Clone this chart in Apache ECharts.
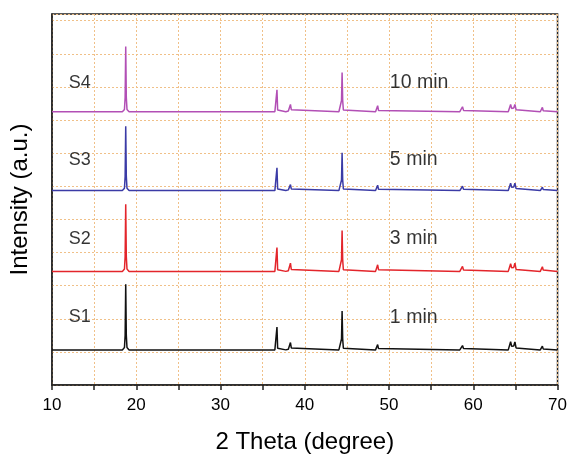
<!DOCTYPE html>
<html>
<head>
<meta charset="utf-8">
<script src="https://cdn.jsdelivr.net/npm/echarts@6/dist/echarts.min.js"></script>
<style>html,body{margin:0;padding:0;background:#fff}#c{width:570px;height:459px}</style>
</head>
<body>
<div id="c"></div>
<script>
// 2-theta sample positions shared by all patterns
const twoTheta = [10,
  18.35, 18.6, 18.68, 18.75, 18.82, 18.9, 19.15,
  36.45, 36.62, 36.7, 36.78, 36.95,
  37.75, 37.9, 38.05, 38.2, 38.3, 38.4, 38.6,
  44.05, 44.28, 44.36, 44.43, 44.5, 44.58, 44.8,
  48.4, 48.55, 48.65, 48.75, 48.9,
  58.4, 58.6, 58.72, 58.84, 59.05,
  64.15, 64.3, 64.43, 64.55, 64.68, 64.8, 64.94, 65.08, 65.3,
  67.95, 68.1, 68.2, 68.3, 68.5,
  70];

// intensities (a.u.) above each pattern's own baseline
const s1 = [0.02,
  0.02, 0.09, 0.45, 2.00, 0.45, 0.09, 0.02,
  0.02, 0.07, 0.71, 0.07, 0.02,
  0.02, 0.08, 0.04, 0.10, 0.24, 0.08, 0.02,
  0.02, 0.07, 0.35, 1.19, 0.35, 0.07, 0.02,
  0.02, 0.06, 0.18, 0.06, 0.02,
  0.02, 0.06, 0.15, 0.06, 0.02,
  0.02, 0.08, 0.27, 0.13, 0.12, 0.14, 0.26, 0.08, 0.02,
  0.02, 0.05, 0.13, 0.05, 0.02,
  0.02];
const s2 = [0.02,
  0.02, 0.09, 0.46, 2.05, 0.46, 0.09, 0.02,
  0.02, 0.07, 0.74, 0.07, 0.02,
  0.02, 0.08, 0.04, 0.10, 0.27, 0.08, 0.02,
  0.02, 0.07, 0.37, 1.25, 0.37, 0.07, 0.02,
  0.02, 0.07, 0.22, 0.07, 0.02,
  0.02, 0.06, 0.17, 0.06, 0.02,
  0.02, 0.08, 0.25, 0.13, 0.12, 0.14, 0.27, 0.08, 0.02,
  0.02, 0.06, 0.16, 0.06, 0.02,
  0.02];
const s3 = [0.02,
  0.02, 0.09, 0.44, 1.96, 0.44, 0.09, 0.02,
  0.02, 0.07, 0.71, 0.07, 0.02,
  0.02, 0.07, 0.04, 0.09, 0.20, 0.07, 0.02,
  0.02, 0.07, 0.34, 1.16, 0.34, 0.07, 0.02,
  0.02, 0.06, 0.18, 0.06, 0.02,
  0.02, 0.06, 0.15, 0.06, 0.02,
  0.02, 0.08, 0.24, 0.12, 0.11, 0.13, 0.24, 0.08, 0.02,
  0.02, 0.05, 0.12, 0.05, 0.02,
  0.02];
const s4 = [0.02,
  0.02, 0.09, 0.45, 1.99, 0.45, 0.09, 0.02,
  0.02, 0.07, 0.68, 0.07, 0.02,
  0.02, 0.08, 0.04, 0.10, 0.24, 0.08, 0.02,
  0.02, 0.07, 0.36, 1.20, 0.36, 0.07, 0.02,
  0.02, 0.06, 0.20, 0.06, 0.02,
  0.02, 0.06, 0.17, 0.06, 0.02,
  0.02, 0.08, 0.24, 0.12, 0.11, 0.13, 0.24, 0.08, 0.02,
  0.02, 0.05, 0.15, 0.05, 0.02,
  0.02];

const sampleNames = ['S1', 'S2', 'S3', 'S4'];
const timeNames = ['1 min', '3 min', '5 min', '10 min'];
const baselines = [1.04, 3.41, 5.85, 8.23];   // vertical offsets of stacked patterns
const xTicks = [10, 20, 30, 40, 50, 60, 70];

const patterns = [s1, s2, s3, s4];
const colors = ['#111111', '#e3252b', '#3b3ba6', '#b24fb5'];
const sampleLabelX = 12.0, timeLabelX = 50.1;
const labelYOffset = [1.0, 1.0, 0.95, 0.9];

const FONT = "'Liberation Sans', Arial, sans-serif";
const gridColor = '#f0c088';

const series = patterns.map((vals, k) => ({
  type: 'line',
  name: sampleNames[k],
  data: twoTheta.map((x, i) => [x, baselines[k] + vals[i]]),
  showSymbol: false,
  symbol: 'none',
  lineStyle: { color: colors[k], width: 1.5 },
  z: 3
}));

series.push({
  type: 'scatter',
  symbolSize: 0,
  silent: true,
  data: sampleNames.map((n, k) => ({ value: [sampleLabelX, baselines[k] + labelYOffset[k]], name: n })),
  label: { show: true, position: 'right', distance: 0, formatter: p => p.name,
           color: '#000', fontSize: 18, fontFamily: FONT },
  z: 5
});
series.push({
  type: 'scatter',
  symbolSize: 0,
  silent: true,
  data: timeNames.map((n, k) => ({ value: [timeLabelX, baselines[k] + labelYOffset[k]], name: n })),
  label: { show: true, position: 'right', distance: 0, formatter: p => p.name,
           color: '#000', fontSize: 19.5, fontFamily: FONT },
  z: 5
});

const chart = echarts.init(document.getElementById('c'), null, { renderer: 'canvas' });
chart.setOption({
  animation: false,
  backgroundColor: '#fff',
  grid: { left: 48, right: 12, top: 14, bottom: 67, show: true, borderColor: '#222', borderWidth: 1.5, backgroundColor: 'transparent' },
  xAxis: {
    type: 'value', min: 10, max: 70, interval: 5,
    name: '2 Theta (degree)', nameLocation: 'middle', nameGap: 45,
    nameTextStyle: { fontSize: 24, color: '#000', fontFamily: FONT },
    axisLine: { show: true, lineStyle: { color: '#222', width: 1.5 } },
    axisTick: { show: true, inside: false, length: 5, lineStyle: { color: '#222', width: 1.5 } },
    axisLabel: { margin: 12, fontSize: 17, color: '#000', fontFamily: FONT,
                 formatter: v => xTicks.indexOf(v) >= 0 ? String(v) : '' },
    splitLine: { show: true, lineStyle: { color: gridColor, type: [2, 2], width: 1 } }
  },
  yAxis: {
    type: 'value', min: 0, max: 11.2, interval: 1,
    name: 'Intensity (a.u.)', nameLocation: 'middle', nameGap: 20,
    nameTextStyle: { fontSize: 24, color: '#000', fontFamily: FONT },
    axisLine: { show: true, lineStyle: { color: '#222', width: 1.5 } },
    axisTick: { show: false },
    axisLabel: { show: false },
    splitLine: { show: true, lineStyle: { color: gridColor, type: [2, 2], width: 1 } }
  },
  series: series
});
</script>
</body>
</html>
